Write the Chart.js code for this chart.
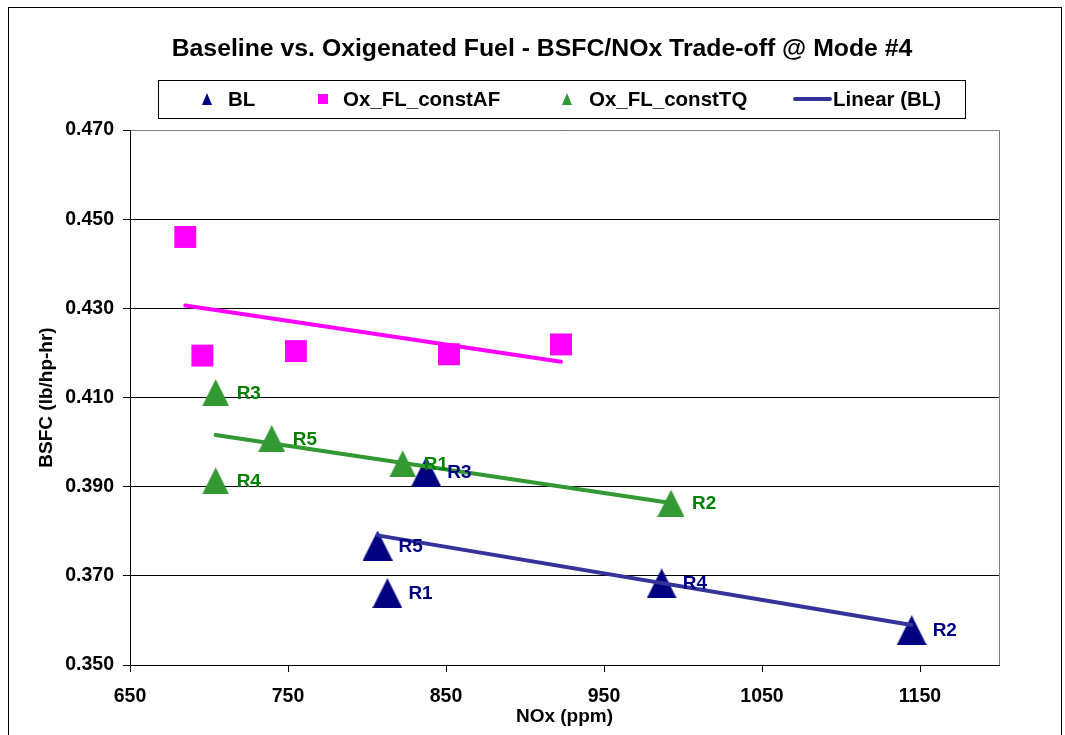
<!DOCTYPE html>
<html>
<head>
<meta charset="utf-8">
<title>BSFC/NOx Trade-off</title>
<script src="https://cdn.jsdelivr.net/npm/chart.js@4.4.1/dist/chart.umd.min.js"></script>
<style>
  html, body { margin: 0; padding: 0; background: #ffffff; }
  #wrap { position: relative; width: 1065px; height: 735px; }
</style>
</head>
<body>
<div id="wrap"><canvas id="chart" width="1065" height="735"></canvas></div>
<script>
// ---- data ----
const runLabels = ['R1', 'R2', 'R3', 'R4', 'R5'];

const noxBL  = [812.9, 1144.7, 837.5, 986.5, 806.7];
const bsfcBL = [0.3661, 0.3578, 0.3934, 0.3683, 0.3768];

const noxAF  = [685.0, 695.8, 755.0, 851.9, 922.8];
const bsfcAF = [0.4460, 0.4194, 0.4204, 0.4197, 0.4219];

const noxTQ  = [822.6, 992.4, 704.2, 704.2, 739.7];
const bsfcTQ = [0.3951, 0.3863, 0.4111, 0.3913, 0.4008];

const xTicks = [650, 750, 850, 950, 1050, 1150];
const yTicks = [0.35, 0.37, 0.39, 0.41, 0.43, 0.45, 0.47];

const titleText = 'Baseline vs. Oxigenated Fuel - BSFC/NOx Trade-off @ Mode #4';

// ---- helpers ----
const FONT = "'Liberation Sans', Arial, Helvetica, sans-serif";

function points(xs, ys) {
  return xs.map((x, i) => ({ x: x, y: ys[i] }));
}

// least-squares linear trendline across the x range of a series
function trend(xs, ys) {
  const n = xs.length;
  const mx = xs.reduce((a, b) => a + b, 0) / n;
  const my = ys.reduce((a, b) => a + b, 0) / n;
  let sxy = 0, sxx = 0;
  for (let i = 0; i < n; i++) {
    sxy += (xs[i] - mx) * (ys[i] - my);
    sxx += (xs[i] - mx) * (xs[i] - mx);
  }
  const slope = sxy / sxx;
  const x0 = Math.min(...xs), x1 = Math.max(...xs);
  return [
    { x: x0, y: my + slope * (x0 - mx) },
    { x: x1, y: my + slope * (x1 - mx) }
  ];
}

// isosceles triangle marker as a small canvas
function triangleMarker(w, h, color) {
  const c = document.createElement('canvas');
  c.width = w; c.height = h;
  const g = c.getContext('2d');
  g.fillStyle = color;
  g.beginPath();
  g.moveTo(0, h);
  g.lineTo(w / 2, 0);
  g.lineTo(w, h);
  g.closePath();
  g.fill();
  return c;
}

const NAVY = '#000080';
const MAGENTA = '#FF00FF';
const GREEN = '#339933';
const GREEN_TEXT = '#008000';
const TREND_BL = '#333399';

const triBL = triangleMarker(30, 30, NAVY);
const triTQ = triangleMarker(27, 27, GREEN);

// ---- plugins ----
const framePlugin = {
  id: 'frame',
  beforeDraw(chart) {
    const ctx = chart.ctx;
    ctx.save();
    ctx.fillStyle = '#ffffff';
    ctx.fillRect(0, 0, chart.width, chart.height);
    ctx.strokeStyle = '#000000';
    ctx.lineWidth = 1;
    ctx.strokeRect(8.5, 7.5, 1053, 800);
    ctx.restore();
  },
  beforeDatasetsDraw(chart) {
    const { ctx, chartArea: a } = chart;
    const t = Math.round(a.top - 0.5) + 0.5;
    const r = Math.round(a.right - 0.5) + 0.5;
    ctx.save();
    ctx.strokeStyle = '#808080';
    ctx.lineWidth = 1;
    ctx.beginPath();
    ctx.moveTo(a.left + 1, t);
    ctx.lineTo(r, t);
    ctx.lineTo(r, a.bottom);
    ctx.stroke();
    ctx.restore();
  }
};

const headerPlugin = {
  id: 'header',
  afterDraw(chart) {
    const ctx = chart.ctx;
    ctx.save();
    // title
    ctx.fillStyle = '#000000';
    ctx.font = 'bold 24.8px ' + FONT;
    ctx.textAlign = 'center';
    ctx.textBaseline = 'alphabetic';
    ctx.fillText(titleText, 542, 56);

    // legend frame
    ctx.strokeStyle = '#000000';
    ctx.lineWidth = 1;
    ctx.strokeRect(158.5, 80.5, 807, 38);

    const ds = chart.data.datasets;
    const cy = 99;
    ctx.font = 'bold 20.5px ' + FONT;
    ctx.textAlign = 'left';

    // BL
    ctx.fillStyle = ds[0].backgroundColor;
    ctx.beginPath();
    ctx.moveTo(202, cy + 6); ctx.lineTo(207, cy - 6); ctx.lineTo(212, cy + 6);
    ctx.closePath(); ctx.fill();
    ctx.fillStyle = '#000';
    ctx.fillText(ds[0].label, 228, cy + 7);

    // Ox_FL_constAF
    ctx.fillStyle = ds[1].backgroundColor;
    ctx.fillRect(318, cy - 5, 10, 10);
    ctx.fillStyle = '#000';
    ctx.fillText(ds[1].label, 343, cy + 7);

    // Ox_FL_constTQ
    ctx.fillStyle = ds[2].backgroundColor;
    ctx.beginPath();
    ctx.moveTo(562, cy + 6); ctx.lineTo(567, cy - 6); ctx.lineTo(572, cy + 6);
    ctx.closePath(); ctx.fill();
    ctx.fillStyle = '#000';
    ctx.fillText(ds[2].label, 589, cy + 7);

    // Linear (BL)
    ctx.strokeStyle = ds[3].borderColor;
    ctx.lineWidth = 4;
    ctx.lineCap = 'round';
    ctx.beginPath();
    ctx.moveTo(795, cy); ctx.lineTo(830, cy);
    ctx.stroke();
    ctx.fillStyle = '#000';
    ctx.fillText(ds[3].label, 833, cy + 7);
    ctx.restore();
  }
};

// run labels next to each marker
const runLabelPlugin = {
  id: 'runLabels',
  afterDatasetsDraw(chart) {
    const ctx = chart.ctx;
    ctx.save();
    ctx.font = 'bold 19px ' + FONT;
    ctx.textAlign = 'left';
    ctx.textBaseline = 'alphabetic';
    chart.data.datasets.forEach((ds, i) => {
      if (!ds.runLabelColor) return;
      const meta = chart.getDatasetMeta(i);
      meta.data.forEach((pt, j) => {
        ctx.fillStyle = ds.runLabelColor;
        ctx.fillText(runLabels[j], pt.x + 21, pt.y + 6);
      });
    });
    ctx.restore();
  }
};

// ---- chart ----
const tickFont = { family: FONT, size: 19.5, weight: 'bold' };
const titleFont = { family: FONT, size: 19, weight: 'bold' };

new Chart(document.getElementById('chart'), {
  type: 'scatter',
  data: {
    datasets: [
      {
        label: 'BL',
        data: points(noxBL, bsfcBL),
        pointStyle: triBL,
        pointRadius: 15,
        backgroundColor: NAVY,
        borderColor: NAVY,
        runLabelColor: NAVY,
        order: 1
      },
      {
        label: 'Ox_FL_constAF',
        data: points(noxAF, bsfcAF),
        pointStyle: 'rect',
        pointRadius: 15.5,
        pointBorderWidth: 0,
        backgroundColor: MAGENTA,
        borderColor: MAGENTA,
        order: 3
      },
      {
        label: 'Ox_FL_constTQ',
        data: points(noxTQ, bsfcTQ),
        pointStyle: triTQ,
        pointRadius: 15,
        backgroundColor: GREEN,
        borderColor: GREEN,
        runLabelColor: GREEN_TEXT,
        order: 2
      },
      {
        label: 'Linear (BL)',
        data: trend(noxBL, bsfcBL),
        showLine: true,
        pointRadius: 0,
        borderColor: TREND_BL,
        borderWidth: 4,
        borderCapStyle: 'round',
        order: 0
      },
      {
        label: 'Linear (Ox_FL_constAF)',
        data: trend(noxAF, bsfcAF),
        showLine: true,
        pointRadius: 0,
        borderColor: MAGENTA,
        borderWidth: 4,
        borderCapStyle: 'round',
        order: 0
      },
      {
        label: 'Linear (Ox_FL_constTQ)',
        data: trend(noxTQ, bsfcTQ),
        showLine: true,
        pointRadius: 0,
        borderColor: GREEN,
        borderWidth: 4,
        borderCapStyle: 'round',
        order: 0
      }
    ]
  },
  options: {
    responsive: false,
    animation: false,
    devicePixelRatio: 1,
    layout: { padding: { top: 130, right: 66, bottom: 0, left: 0 } },
    plugins: {
      legend: { display: false },
      title: { display: false },
      tooltip: { enabled: false }
    },
    scales: {
      x: {
        type: 'linear',
        min: 650,
        max: 1200,
        afterBuildTicks(scale) { scale.ticks = xTicks.map(v => ({ value: v })); },
        afterFit(scale) { scale.height = 70; },
        ticks: {
          color: '#000',
          font: tickFont,
          padding: 13,
          maxRotation: 0,
          callback: v => String(v)
        },
        grid: {
          display: true,
          drawOnChartArea: false,
          drawTicks: true,
          tickLength: 7,
          color: '#000',
          lineWidth: 1
        },
        border: { display: true, color: '#000', width: 1 },
        title: {
          display: true,
          text: 'NOx (ppm)',
          color: '#000',
          font: titleFont,
          padding: { top: 0, bottom: 7 }
        }
      },
      y: {
        type: 'linear',
        min: 0.35,
        max: 0.47,
        afterBuildTicks(scale) { scale.ticks = yTicks.map(v => ({ value: v })); },
        afterFit(scale) { scale.width = 130; },
        ticks: {
          color: '#000',
          font: tickFont,
          padding: 9,
          callback: v => Number(v).toFixed(3)
        },
        grid: {
          display: true,
          drawOnChartArea: true,
          drawTicks: true,
          tickLength: 7,
          color: '#000',
          lineWidth: 1
        },
        border: { display: true, color: '#000', width: 1 },
        title: {
          display: true,
          text: 'BSFC (lb/hp-hr)',
          color: '#000',
          font: titleFont,
          padding: { top: 35, bottom: 0 }
        }
      }
    }
  },
  plugins: [framePlugin, headerPlugin, runLabelPlugin]
});
</script>
</body>
</html>
